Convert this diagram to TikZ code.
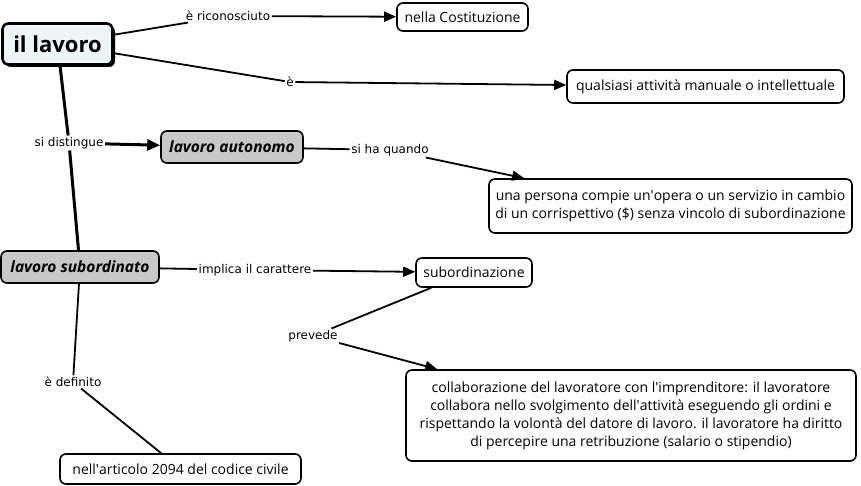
\documentclass[tikz,border=0pt]{standalone}
\usepackage{fontspec}
\setmainfont{Open Sans}
\newfontfamily\lblfont{DejaVu Sans}
\usetikzlibrary{arrows.meta,shadows}
\definecolor{lavfill}{HTML}{EEF5F8}
\definecolor{grayfill}{HTML}{C8C8C8}
\newcommand{\apo}{\textquotesingle}
\begin{document}
\begin{tikzpicture}[x=1pt,y=-1pt,
 box/.style={draw=black, line width=1.6pt, rounded corners=6pt, fill=white, inner sep=0pt, align=center, font=\fontsize{14}{18}\selectfont},
 graybox/.style={box, fill=grayfill, font=\fontsize{15.5}{18}\selectfont\bfseries\itshape},
 lbl/.style={fill=white, inner sep=1.5pt, font=\lblfont\fontsize{12}{14}\selectfont},
 conn/.style={line width=1.8pt},
 thick conn/.style={line width=3pt},
 arr/.style={line width=1.8pt, -{Triangle[length=12pt,width=10pt]}},
 thick arr/.style={line width=3pt, -{Triangle[length=13pt,width=11pt]}},
]
\useasboundingbox (0,0) rectangle (861,486);

% concept nodes
\node[box, line width=2.6pt, fill=lavfill, minimum width=110pt, minimum height=41pt,
      font=\fontsize{22}{26}\selectfont\bfseries,
      drop shadow={shadow xshift=2.5pt, shadow yshift=-2.5pt, fill=black, opacity=1}] (lav) at (57.5,44) {il lavoro};
\node[box, minimum width=131pt, minimum height=28pt] (cost) at (462.5,17) {nella Costituzione};
\node[box, minimum width=277pt, minimum height=33pt] (qual) at (705.5,86.5) {qualsiasi attività manuale o intellettuale};
\node[graybox, minimum width=142pt, minimum height=32pt] (auto) at (232,147) {lavoro autonomo};
\node[box, minimum width=363pt, minimum height=54pt] (pers) at (670.5,206) {una persona compie un\apo opera o un servizio in cambio\\di un corrispettivo (\$) senza vincolo di subordinazione};
\node[graybox, minimum width=158pt, minimum height=32pt] (sub) at (80,267) {lavoro subordinato};
\node[box, minimum width=116pt, minimum height=29pt] (subz) at (474,272.5) {subordinazione};
\node[box, minimum width=450pt, minimum height=91pt] (coll) at (631,415.5) {collaborazione del lavoratore con l\apo imprenditore: il lavoratore\\collabora nello svolgimento dell\apo attività eseguendo gli ordini e\\rispettando la volontà del datore di lavoro. il lavoratore ha diritto\\di percepire una retribuzione (salario o stipendio)};
\node[box, minimum width=241pt, minimum height=30pt] (art) at (180.5,469) {nell\apo articolo 2094 del codice civile};

% linking phrases
\node[lbl] (l1) at (228,16) {è riconosciuto};
\node[lbl] (l2) at (290,82) {è};
\node[lbl] (l3) at (69,143) {si distingue};
\node[lbl] (l4) at (390,150) {si ha quando};
\node[lbl] (l5) at (255,270) {implica il carattere};
\node[lbl] (l6) at (313,336) {prevede};
\node[lbl] (l7) at (73,382) {è definito};

% connectors
\draw[conn] (lav) -- (l1);
\draw[arr] (l1) -- (cost);
\draw[conn] (lav) -- (l2);
\draw[arr] (l2) -- (qual);
\draw[thick conn] (lav) -- (l3);
\draw[thick arr] (l3) -- (auto);
\draw[thick conn] (l3) -- (sub);
\draw[conn] (auto) -- (l4);
\draw[arr] (l4) -- ([xshift=36pt]pers.north west);
\draw[conn] (sub) -- (l5);
\draw[arr] (l5) -- (subz);
\draw[conn] ([xshift=16pt]subz.south west) -- (l6);
\draw[arr] (l6) -- ([xshift=32pt]coll.north west);
\draw[conn] (sub) -- (l7);
\draw[conn] (l7) -- ([xshift=102pt]art.north west);
\end{tikzpicture}
\end{document}
